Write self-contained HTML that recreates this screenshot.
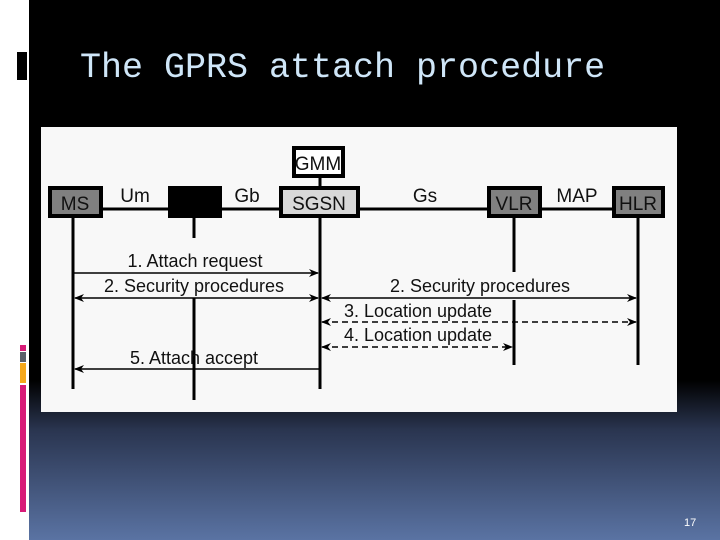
<!DOCTYPE html>
<html><head><style>
body{margin:0;width:720px;height:540px;overflow:hidden;background:#fff;position:relative}
#main{position:absolute;left:29px;top:0;width:691px;height:540px;background:linear-gradient(to bottom,#000 0,#000 380px,#2a3550 430px,#5a73a3 540px)}
.t{font-family:"Liberation Mono",monospace;font-size:35px;color:#cfe6f8;position:absolute;left:80px;top:48px;white-space:pre}
</style></head><body>
<div id="main"></div>
<div style="position:absolute;left:17px;top:52px;width:10px;height:28px;background:#000"></div>
<div style="position:absolute;left:20px;top:345px;width:6px;height:6px;background:#d81b78"></div>
<div style="position:absolute;left:20px;top:352px;width:6px;height:10px;background:#5a5f6a"></div>
<div style="position:absolute;left:20px;top:363px;width:6px;height:20px;background:#f5a81c"></div>
<div style="position:absolute;left:20px;top:385px;width:6px;height:127px;background:#d81b78"></div>
<div class="t">The GPRS attach procedure</div>
<div style="position:absolute;left:684px;top:517px;font:11px 'Liberation Sans',sans-serif;color:#fff">17</div>
<svg width="720" height="540" style="position:absolute;left:0;top:0">
<defs>
<marker id="a" markerWidth="10" markerHeight="8" refX="9" refY="4" orient="auto-start-reverse" markerUnits="userSpaceOnUse"><path d="M0,0 L10,4 L0,8 L3,4z" fill="#000"/></marker>
</defs>
<rect x="41" y="127" width="636" height="285" fill="#f8f8f8"/>
<g stroke="#000" stroke-width="3">
<line x1="100" y1="209" x2="640" y2="209"/>
<line x1="320" y1="176" x2="320" y2="190"/>
<line x1="73" y1="216" x2="73" y2="389"/>
<line x1="194" y1="216" x2="194" y2="238"/>
<line x1="194" y1="298" x2="194" y2="400"/>
<line x1="320" y1="216" x2="320" y2="389"/>
<line x1="514" y1="216" x2="514" y2="272"/>
<line x1="514" y1="300" x2="514" y2="365"/>
<line x1="638" y1="216" x2="638" y2="365"/>
</g>
<g stroke="#000" stroke-width="4">
<rect x="50" y="188" width="51" height="28" fill="#808080"/>
<rect x="170" y="188" width="50" height="28" fill="#000"/>
<rect x="281" y="188" width="77" height="28" fill="#d8d8d8"/>
<rect x="294" y="148" width="49" height="28" fill="#fff"/>
<rect x="489" y="188" width="51" height="28" fill="#808080"/>
<rect x="614" y="188" width="49" height="28" fill="#808080"/>
</g>
<g stroke="#000" stroke-width="1.5" fill="none">
<line x1="73" y1="273" x2="318" y2="273" marker-end="url(#a)"/>
<line x1="75" y1="298" x2="318" y2="298" marker-start="url(#a)" marker-end="url(#a)"/>
<line x1="322" y1="298" x2="636" y2="298" marker-start="url(#a)" marker-end="url(#a)"/>
<line x1="322" y1="322" x2="636" y2="322" stroke-dasharray="6,4" marker-start="url(#a)" marker-end="url(#a)"/>
<line x1="322" y1="347" x2="512" y2="347" stroke-dasharray="6,4" marker-start="url(#a)" marker-end="url(#a)"/>
<line x1="75" y1="369" x2="320" y2="369" marker-start="url(#a)"/>
</g>
<g font-family="'Liberation Sans Narrow','Liberation Sans',sans-serif" font-size="19" fill="#111" text-anchor="middle">
<text x="75" y="210">MS</text>
<text x="319" y="210">SGSN</text>
<text x="318" y="170">GMM</text>
<text x="514" y="210">VLR</text>
<text x="638" y="210">HLR</text>
<text x="135" y="202">Um</text>
<text x="247" y="202">Gb</text>
<text x="425" y="202">Gs</text>
<text x="577" y="202">MAP</text>
<g font-size="18">
<text x="195" y="267">1. Attach request</text>
<text x="194" y="292">2. Security procedures</text>
<text x="480" y="292">2. Security procedures</text>
<text x="418" y="317">3. Location update</text>
<text x="418" y="341">4. Location update</text>
<text x="194" y="364">5. Attach accept</text>
</g>
</g>
</svg>
</body></html>
